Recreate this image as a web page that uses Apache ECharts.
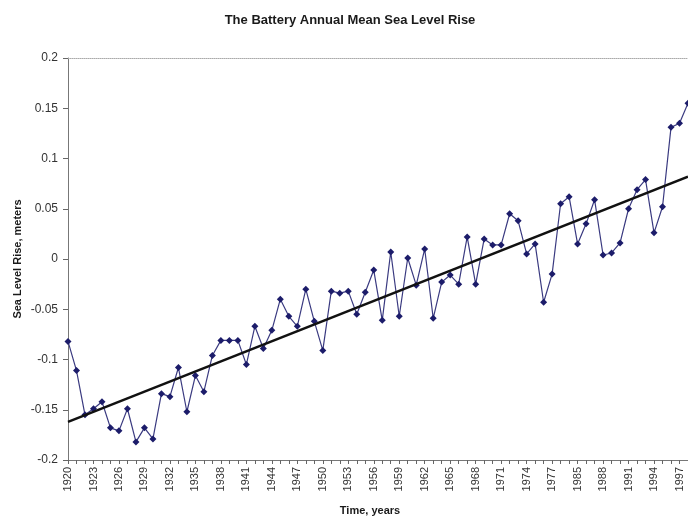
<!DOCTYPE html>
<html>
<head>
<meta charset="utf-8">
<script src="https://cdn.jsdelivr.net/npm/echarts@6/dist/echarts.min.js"></script>
<style>
html,body{margin:0;padding:0;background:#fff;}
#chart{width:688px;height:521px;}
</style>
</head>
<body>
<div id="chart"></div>
<script>
var years = ['1920','1921','1922','1923','1924','1925','1926','1927','1928','1929',
  '1930','1931','1932','1933','1934','1935','1936','1937','1938','1939',
  '1940','1941','1942','1943','1944','1945','1946','1947','1948','1949',
  '1950','1951','1952','1953','1954','1955','1956','1957','1958','1959',
  '1960','1961','1962','1963','1964','1965','1966','1967','1968','1969',
  '1970','1971','1972','1973','1974','1975','1976','1977','1978','1979',
  '1985','1986','1987','1988','1989','1990','1991','1992','1993','1994',
  '1995','1996','1997','1998'];
var seaLevel = [-0.082,-0.111,-0.155,-0.149,-0.142,-0.168,-0.171,-0.149,-0.182,-0.168,
  -0.179,-0.134,-0.137,-0.108,-0.152,-0.116,-0.132,-0.096,-0.081,-0.081,
  -0.081,-0.105,-0.067,-0.089,-0.071,-0.040,-0.057,-0.067,-0.030,-0.062,
  -0.091,-0.032,-0.034,-0.032,-0.055,-0.033,-0.011,-0.061,0.007,-0.057,
  0.001,-0.026,0.010,-0.059,-0.023,-0.016,-0.025,0.022,-0.025,0.020,
  0.014,0.014,0.045,0.038,0.005,0.015,-0.043,-0.015,0.055,0.062,
  0.015,0.035,0.059,0.004,0.006,0.016,0.050,0.069,0.079,0.026,
  0.052,0.131,0.135,0.155];
var trendYears = ['1920','1998'];
var trendValues = [-0.162, 0.082];
var yMin = -0.2, yMax = 0.2, yStep = 0.05;

var font = '"Liberation Sans", Arial, sans-serif';
var chart = echarts.init(document.getElementById('chart'));
chart.setOption({
  animation: false,
  backgroundColor: '#ffffff',
  title: {
    text: 'The Battery Annual Mean Sea Level Rise',
    left: 345, top: 9, textAlign: 'center',
    textStyle: {fontFamily: font, fontSize: 13, fontWeight: 'bold', color: '#1a1a1a'}
  },
  grid: {left: 68, top: 58, width: 624, height: 407},
  xAxis: [{
    type: 'category',
    data: years,
    boundaryGap: false,
    position: 'bottom',
    name: 'Time, years',
    nameLocation: 'middle',
    nameGap: 45,
    nameMoveOverlap: false,
    nameTextStyle: {fontFamily: font, fontSize: 11, fontWeight: 'bold', color: '#1a1a1a', padding: [0, 16, 0, 0]},
    axisLine: {onZero: false, lineStyle: {color: '#777', width: 1}},
    axisTick: {show: true, interval: 0, length: 4, lineStyle: {color: '#666'}},
    axisLabel: {interval: 2, rotate: 90, fontFamily: font, fontSize: 11, color: '#333', margin: 7},
    splitLine: {show: false}
  }, {
    type: 'category',
    data: years,
    boundaryGap: false,
    position: 'top',
    axisLine: {onZero: false, lineStyle: {color: '#aaa', width: 1, type: 'dotted'}},
    axisTick: {show: false},
    axisLabel: {show: false},
    splitLine: {show: false}
  }],
  yAxis: {
    type: 'value',
    min: yMin, max: yMax, interval: yStep,
    name: 'Sea Level Rise, meters',
    nameLocation: 'middle',
    nameGap: 45,
    nameMoveOverlap: false,
    nameTextStyle: {fontFamily: font, fontSize: 11, fontWeight: 'bold', color: '#1a1a1a'},
    axisLine: {show: true, onZero: false, lineStyle: {color: '#777', width: 1}},
    axisTick: {show: true, length: 5, lineStyle: {color: '#666'}},
    axisLabel: {
      fontFamily: font, fontSize: 12, color: '#333', margin: 10,
      formatter: function (v) { return String(parseFloat(v.toFixed(2))); }
    },
    splitLine: {show: false}
  },
  series: [{
    type: 'line',
    data: seaLevel,
    symbol: 'diamond',
    symbolSize: 7,
    showAllSymbol: true,
    lineStyle: {color: '#3a3a80', width: 1.2},
    itemStyle: {color: '#1c1c6a'},
    z: 2
  }, {
    type: 'line',
    data: trendYears.map(function (y, i) { return [y, trendValues[i]]; }),
    symbol: 'none',
    lineStyle: {color: '#111', width: 2.5},
    z: 3
  }]
});
</script>
</body>
</html>
